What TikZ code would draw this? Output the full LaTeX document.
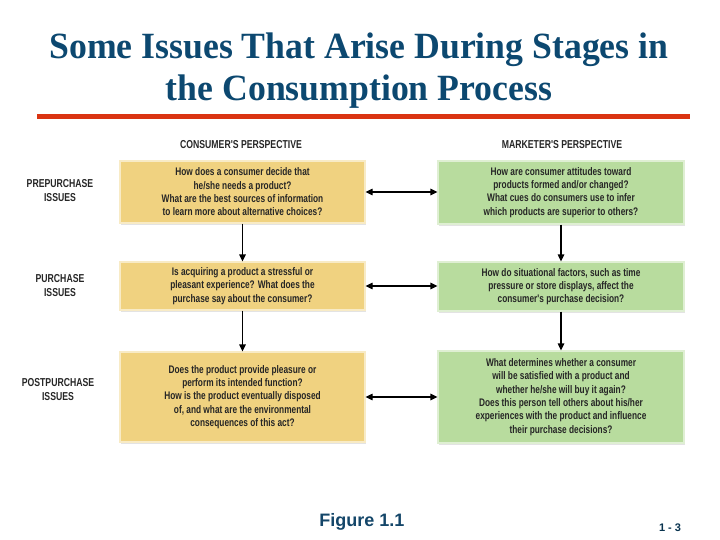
\documentclass[tikz,border=0pt]{standalone}
\usepackage{fontspec}
\setmainfont{Liberation Sans}
\newfontfamily\titlefont[FakeStretch=0.965]{Liberation Serif}
\newfontfamily\cond[FakeStretch=0.755]{Liberation Sans}
\usetikzlibrary{arrows.meta,shadows}
\definecolor{titleblue}{RGB}{12,72,112}
\definecolor{rulered}{RGB}{218,52,18}
\definecolor{boxyellow}{RGB}{240,210,128}
\definecolor{boxgreen}{RGB}{184,220,158}
\definecolor{figblue}{RGB}{20,70,105}
\tikzset{
  qbox/.style={rectangle, line width=1.2pt, align=center, inner sep=2pt,
    font=\cond\bfseries\fontsize{11}{13.3}\selectfont, text=black!85,
    drop shadow={opacity=0.22, shadow xshift=1pt, shadow yshift=-2pt}},
  consbox/.style={qbox, fill=boxyellow, draw=boxyellow!45!white},
  markbox/.style={qbox, fill=boxgreen, draw=boxgreen!45!white},
  heading/.style={font=\cond\bfseries\fontsize{11.5}{12}\selectfont, text=black!85},
  stagelabel/.style={font=\cond\bfseries\fontsize{11.5}{14}\selectfont, align=center, text=black!85},
  flow/.style={line width=1.2pt, -{Triangle[length=7pt,width=6.5pt]}},
  twoway/.style={line width=1.2pt, {Triangle[length=7pt,width=6.5pt]}-{Triangle[length=7pt,width=6.5pt]}}
}
\begin{document}
\begin{tikzpicture}[x=1pt,y=-1pt]
\useasboundingbox (0,0) rectangle (720,540);
% title
\node[anchor=base, font=\titlefont\bfseries\fontsize{37}{42}\selectfont, text=titleblue] (t1) at (359,58.5) {Some Issues That Arise During Stages in};
\node[anchor=base, font=\titlefont\bfseries\fontsize{37}{42}\selectfont, text=titleblue] (t2) at (359,101) {the Consumption Process};
\fill[rulered] (37,114.5) rectangle (690,119.5);
% headings
\node[heading] (hc) at (241,145) {CONSUMER'S PERSPECTIVE};
\node[heading] (hm) at (562,145) {MARKETER'S PERSPECTIVE};
% stage labels
\node[stagelabel] (s1) at (60,191) {PREPURCHASE\\ISSUES};
\node[stagelabel] (s2) at (60,286) {PURCHASE\\ISSUES};
\node[stagelabel] (s3) at (58,390) {POSTPURCHASE\\ISSUES};
% consumer boxes
\node[consbox, minimum width=245pt, minimum height=62pt] (c1) at (242.5,192)
  {How does a consumer decide that\\he/she needs a product?\\What are the best sources of information\\to learn more about alternative choices?};
\node[consbox, minimum width=245pt, minimum height=48pt] (c2) at (242.5,286)
  {Is acquiring a product a stressful or\\pleasant experience? What does the\\purchase say about the consumer?};
\node[consbox, minimum width=245pt, minimum height=90pt] (c3) at (242.5,397)
  {Does the product provide pleasure or\\perform its intended function?\\How is the product eventually disposed\\of, and what are the environmental\\consequences of this act?};
% marketer boxes
\node[markbox, minimum width=246pt, minimum height=63pt] (m1) at (561,192.5)
  {How are consumer attitudes toward\\products formed and/or changed?\\What cues do consumers use to infer\\which products are superior to others?};
\node[markbox, minimum width=246pt, minimum height=49pt] (m2) at (561,286.5)
  {How do situational factors, such as time\\pressure or store displays, affect the\\consumer's purchase decision?};
\node[markbox, minimum width=246pt, minimum height=92pt] (m3) at (561,397)
  {What determines whether a consumer\\will be satisfied with a product and\\whether he/she will buy it again?\\Does this person tell others about his/her\\experiences with the product and influence\\their purchase decisions?};
% connectors
\draw[flow] (c1) -- (c2);
\draw[flow] (c2) -- (c3);
\draw[flow] (m1) -- (m2);
\draw[flow] (m2) -- (m3);
\draw[twoway] (c1.east) -- (c1.east -| m1.west);
\draw[twoway] (c2.east) -- (c2.east -| m2.west);
\draw[twoway] (c3.east) -- (c3.east -| m3.west);
% footer
\node[anchor=base, font=\bfseries\fontsize{18}{20}\selectfont, text=figblue] (fig) at (362,526) {Figure 1.1};
\node[anchor=base, font=\bfseries\fontsize{11}{12}\selectfont, text=titleblue!70!black] (pg) at (670,531) {1 - 3};
\end{tikzpicture}
\end{document}
